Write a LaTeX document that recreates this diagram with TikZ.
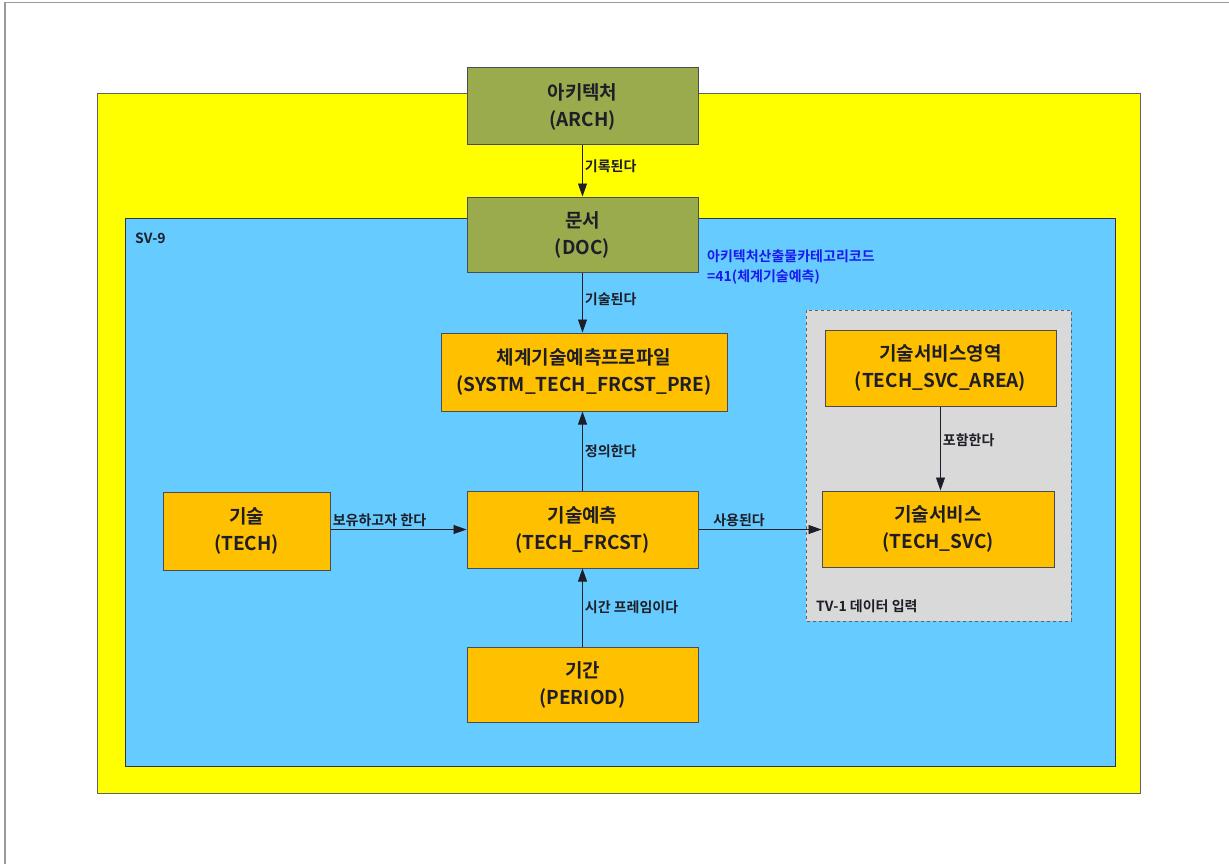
\documentclass[tikz,border=0pt]{standalone}
\usepackage{fontspec}
\setmainfont{Noto Sans CJK KR}[BoldFont={Noto Sans CJK KR Bold}]
\usetikzlibrary{arrows.meta}
\definecolor{yel}{HTML}{FFFF00}
\definecolor{sky}{HTML}{66CCFF}
\definecolor{org}{HTML}{FFC000}
\definecolor{olive}{HTML}{9AAB4E}
\definecolor{lgray}{HTML}{D9D9D9}
\definecolor{ink}{HTML}{1E1E28}
\definecolor{lblue}{HTML}{1A1AEE}
\tikzset{
  ent/.style={draw=ink!80, line width=1pt, text=ink, font=\fontsize{19}{27}\selectfont\bfseries, align=center, inner sep=0pt},
  orgbox/.style={ent, fill=org},
  grnbox/.style={ent, fill=olive},
  lbl/.style={font=\fontsize{14}{17}\selectfont\bfseries, text=ink, inner sep=2pt},
  conn/.style={draw=ink, line width=0.8pt, -{Triangle[length=13pt,width=9pt]}},
}
\begin{document}
\begin{tikzpicture}[x=1pt,y=-1pt]
\useasboundingbox (0,0) rectangle (1229,864);
\fill[white] (0,0) rectangle (1229,864);
\draw[gray!80, line width=1.5pt] (5,864) -- (5,2.5) -- (1229,2.5);
% frames
\draw[fill=yel, draw=ink!70, line width=1pt] (97,94) rectangle (1140,793);
\draw[fill=sky, draw=ink!90, line width=1pt] (125,218) rectangle (1115,766);
\node[lbl, anchor=west] (sv) at (133,238) {SV-9};
\draw[fill=lgray, draw=ink!70, dashed, line width=0.8pt] (806,310) rectangle (1071,621);
\node[lbl, anchor=west] (tv) at (814,606) {TV-1 데이터 입력};
% nodes
\node[grnbox, minimum width=231pt, minimum height=77pt] (arch) at (582.5,106.5) {아키텍처\\(ARCH)};
\node[grnbox, minimum width=231pt, minimum height=75pt] (doc) at (582.5,234.5) {문서\\(DOC)};
\node[orgbox, minimum width=286pt, minimum height=78pt] (prf) at (584,372) {체계기술예측프로파일\\(SYSTM\_TECH\_FRCST\_PRE)};
\node[orgbox, minimum width=231pt, minimum height=77pt] (frc) at (582.5,529.5) {기술예측\\(TECH\_FRCST)};
\node[orgbox, minimum width=167pt, minimum height=78pt] (tech) at (246.5,531) {기술\\(TECH)};
\node[orgbox, minimum width=231pt, minimum height=75pt] (per) at (582.5,684.5) {기간\\(PERIOD)};
\node[orgbox, minimum width=231pt, minimum height=76pt] (area) at (940.5,368) {기술서비스영역\\(TECH\_SVC\_AREA)};
\node[orgbox, minimum width=232pt, minimum height=76pt] (svc) at (938,529) {기술서비스\\(TECH\_SVC)};
% blue note
\node[font=\fontsize{14}{20}\selectfont\bfseries, text=lblue, align=left, anchor=north west, inner sep=0pt] (note) at (707,250) {아키텍처산출물카테고리코드\\=41(체계기술예측)};
% connectors
\draw[conn] (arch) -- node[lbl, right, pos=0.4]{기록된다} (doc);
\draw[conn] (doc) -- node[lbl, right, pos=0.45]{기술된다} (doc |- prf.north);
\draw[conn] (frc) -- node[lbl, right, pos=0.5]{정의한다} (frc |- prf.south);
\draw[conn] (tech.east |- frc) -- node[lbl, above, pos=0.36]{보유하고자 한다} (frc.west);
\draw[conn] (per) -- node[lbl, right, pos=0.5]{시간 프레임이다} (frc);
\draw[conn] (frc.east) -- node[lbl, above, pos=0.33]{사용된다} (svc.west |- frc);
\draw[conn] (area) -- node[lbl, right, pos=0.4]{포함한다} (area |- svc.north);
\end{tikzpicture}
\end{document}
